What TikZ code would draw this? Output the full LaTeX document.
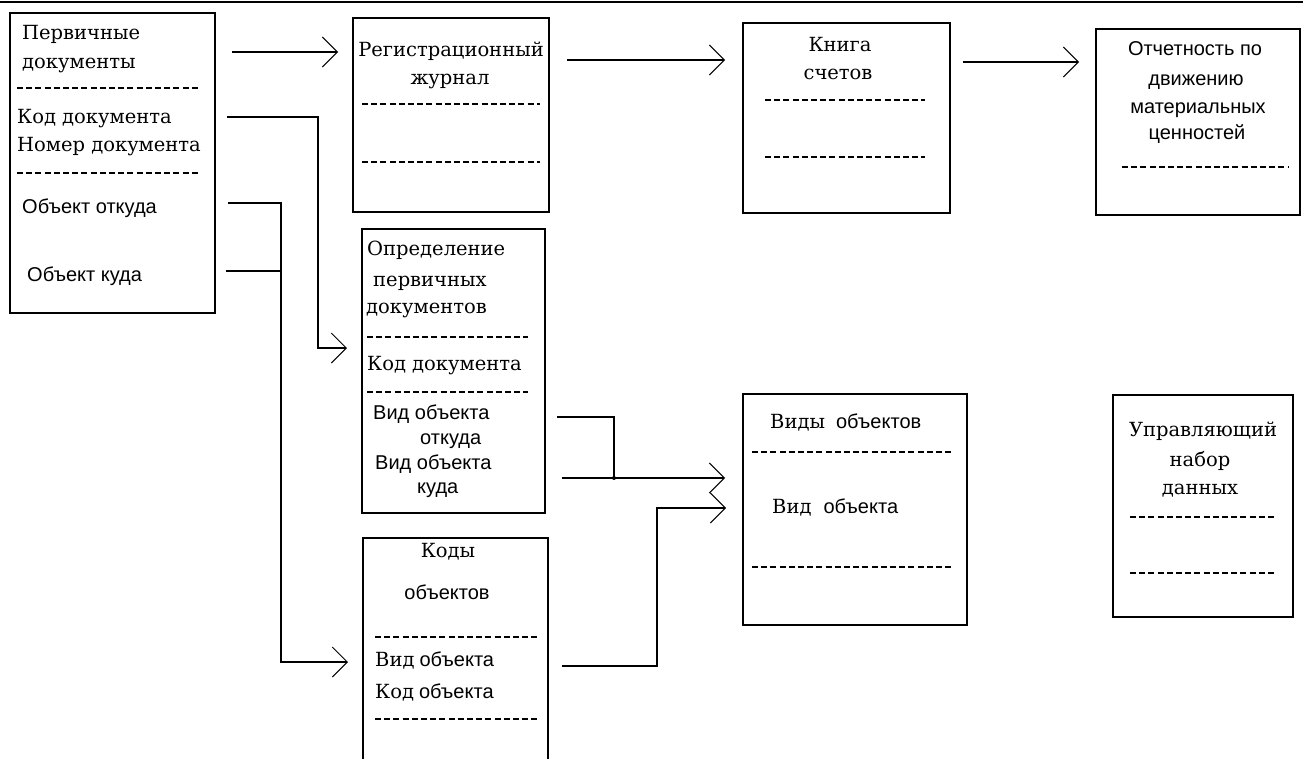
\documentclass[tikz,border=0pt]{standalone}
\usepackage{fontspec}
\usetikzlibrary{arrows.meta}
\newfontfamily\srf{DejaVu Serif}
\newfontfamily\snf{Liberation Sans}
\newcommand{\Sf}{\srf\fontsize{19.5}{24}\selectfont}
\newcommand{\Af}{\snf\fontsize{20}{24}\selectfont}
\begin{document}
\begin{tikzpicture}[x=1pt,y=-1pt,
  box/.style={draw, line width=1.5pt, inner sep=0pt},
  dline/.style={line width=1.2pt, dash pattern=on 6pt off 3.2pt},
  conn/.style={line width=1.5pt},
  arr/.style={line width=1.5pt, -{Straight Barb[length=15pt,width=30pt,line width=1pt]}},
  txS/.style={inner sep=0pt, anchor=mid west, font=\Sf, yshift=-4pt},
  txA/.style={inner sep=0pt, anchor=mid west, font=\Af, yshift=-4pt},
  ctS/.style={inner sep=0pt, anchor=mid, font=\Sf, yshift=-4pt},
  ctA/.style={inner sep=0pt, anchor=mid, font=\Af, yshift=-4pt}]
\useasboundingbox (0,0) rectangle (1303,758);
\clip (0,0) rectangle (1303,758);
\fill[white] (0,0) rectangle (1303,758);
% top rule
\coordinate (tl) at (0,2);
\coordinate (tr) at (1303,2);
\draw[line width=2pt] (tl) -- (tr);

% boxes
\node[box, minimum width=205pt, minimum height=300pt] (pd) at (112.5,163) {};
\node[box, minimum width=196pt, minimum height=194pt] (rj) at (451,115) {};
\node[box, minimum width=207pt, minimum height=190pt] (kn) at (846.5,118) {};
\node[box, minimum width=204pt, minimum height=186pt] (ot) at (1198,122) {};
\node[box, minimum width=183pt, minimum height=284pt] (op) at (453.5,371) {};
\node[box, minimum width=224pt, minimum height=231pt] (vo) at (855,509.5) {};
\node[box, minimum width=185pt, minimum height=242pt] (ko) at (455.5,659) {};
\node[box, minimum width=180pt, minimum height=222pt] (up) at (1203,506) {};

% dashed separators
\draw[dline] (17,88) -- (200,88);
\draw[dline] (17,173) -- (200,173);
\draw[dline] (362,104) -- (540,104);
\draw[dline] (362,162) -- (540,162);
\draw[dline] (765,100) -- (925,100);
\draw[dline] (765,157) -- (925,157);
\draw[dline] (1122,167) -- (1288,167);
\draw[dline] (367,337) -- (528,337);
\draw[dline] (367,392) -- (528,392);
\draw[dline] (752,452) -- (953,452);
\draw[dline] (752,567) -- (953,567);
\draw[dline] (375,637) -- (537,637);
\draw[dline] (375,719) -- (537,719);
\draw[dline] (1130,517) -- (1275,517);
\draw[dline] (1130,573) -- (1275,573);

% texts: primary documents
\node[txS] (t1) at (22,33) {Первичные};
\node[txS] (t2) at (22,62) {документы};
\node[txS] (t3) at (17,117) {Код документа};
\node[txS] (t4) at (17,145) {Номер документа};
\node[txA] (t5) at (22,207) {Объект откуда};
\node[txA] (t6) at (27,275) {Объект куда};
% registration journal
\node[ctS] (r1) at (451,50) {Регистрационный};
\node[ctS] (r2) at (450,78) {журнал};
% book of accounts
\node[ctS] (k1) at (840,45) {Книга};
\node[ctS] (k2) at (838,73) {счетов};
% reporting
\node[ctA] (o1) at (1195,49) {Отчетность по};
\node[ctA] (o2) at (1196,79) {движению};
\node[ctA] (o3) at (1198,107) {материальных};
\node[ctA] (o4) at (1197,133) {ценностей};
% definition of primary documents
\node[txS] (d1) at (367,249) {Определение};
\node[txS] (d2) at (373,280) {первичных};
\node[txS] (d3) at (366,307) {документов};
\node[txS] (d4) at (367,364) {Код документа};
\node[txA] (d5) at (373,413) {Вид объекта};
\node[txA] (d6) at (420,438) {откуда};
\node[txA] (d7) at (375,463) {Вид объекта};
\node[txA] (d8) at (417,487) {куда};
% object kinds
\node[txS] (v1) at (770,422) {Виды\hspace{11pt}{\Af объектов}};
\node[txS] (v2) at (772,507) {Вид\hspace{12pt}{\Af объекта}};
% object codes
\node[ctS] (c1) at (448,551) {Коды};
\node[ctA] (c2) at (447,593) {объектов};
\node[txS] (c3) at (375,660) {Вид\hspace{5pt}{\Af объекта}};
\node[txS] (c4) at (375,692) {Код\hspace{5pt}{\Af объекта}};
% control data set
\node[ctS] (u1) at (1203,430) {Управляющий};
\node[ctS] (u2) at (1200,460) {набор};
\node[ctS] (u3) at (1200,488) {данных};

% connector end points
\coordinate (a1s) at (232,52);  \coordinate (a1e) at (338,52);
\coordinate (a2s) at (567,60);  \coordinate (a2e) at (725,60);
\coordinate (a3s) at (963,62);  \coordinate (a3e) at (1079,62);
\coordinate (b1s) at (227,117); \coordinate (b1m) at (318,117);
\coordinate (b1n) at (318,348); \coordinate (b1e) at (347,348);
\coordinate (b2s) at (228,203); \coordinate (b2m) at (281,203);
\coordinate (b2n) at (281,662); \coordinate (b2e) at (348,662);
\coordinate (b3s) at (226,271); \coordinate (b3m) at (281,271);
\coordinate (e1s) at (557,417); \coordinate (e1m) at (614,417);
\coordinate (jn) at (614,478);
\coordinate (e2s) at (562,478); \coordinate (e2e) at (725,478);
\coordinate (f1s) at (562,666); \coordinate (f1m) at (657,666);
\coordinate (f1n) at (657,508); \coordinate (f1e) at (726,508);

% connectors
\draw[arr] (a1s) -- (a1e);
\draw[arr] (a2s) -- (a2e);
\draw[arr] (a3s) -- (a3e);
\draw[arr] (b1s) -- (b1m) -- (b1n) -- (b1e);
\draw[arr] (b2s) -- (b2m) -- (b2n) -- (b2e);
\draw[conn] (b3s) -- (b3m);
\draw[conn] (e1s) -- (e1m) -- (jn);
\draw[arr] (e2s) -- (e2e);
\fill (jn) circle (2pt);
\draw[arr] (f1s) -- (f1m) -- (f1n) -- (f1e);
\end{tikzpicture}
\end{document}
